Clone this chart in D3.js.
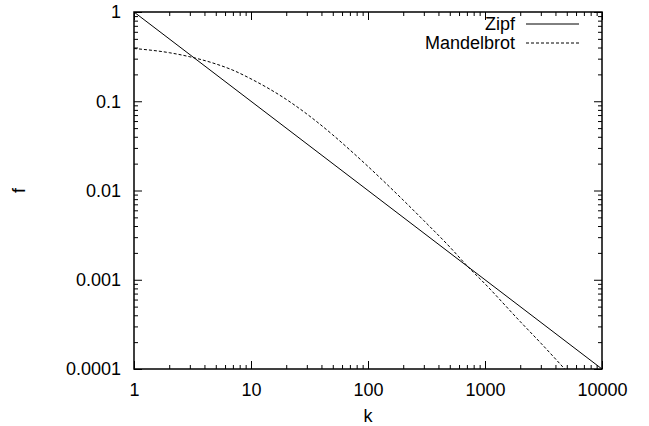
<!DOCTYPE html>
<html>
<head>
<meta charset="utf-8">
<script src="https://cdn.jsdelivr.net/npm/d3@7"></script>
<style>
  body { margin: 0; background: #fff; }
  svg { display: block; font-family: "Liberation Sans", Arial, sans-serif; }
</style>
</head>
<body>
<div id="chart"></div>
<script>
// data
const kTicks = [1, 10, 100, 1000, 10000];
const kLabels = ["1", "10", "100", "1000", "10000"];
const fTicks = [1, 0.1, 0.01, 0.001, 0.0001];
const fLabels = ["1", "0.1", "0.01", "0.001", "0.0001"];

const zipfK = [1, 10, 100, 1000, 10000];
const zipfF = [1, 0.1, 0.01, 0.001, 0.0001];

const mandK = [1, 2, 3, 5, 7, 10, 20, 30, 50, 70, 100, 200, 300, 500, 700, 1000, 2000, 3000, 4800];
const mandF = [0.39, 0.35, 0.315, 0.262, 0.223, 0.178, 0.105, 0.072, 0.042, 0.0285, 0.0186,
               0.0078, 0.0046, 0.00233, 0.00144, 0.0009, 0.00034, 0.000195, 0.0001];

const series = [
  { name: "Zipf", k: zipfK, f: zipfF, dash: null },
  { name: "Mandelbrot", k: mandK, f: mandF, dash: "3,2" }
];

const W = 649, H = 426;
const pl = 134, pr = 602, pt = 12, pb = 369;

const svg = d3.select("#chart").append("svg")
  .attr("width", W)
  .attr("height", H);

const x = d3.scaleLog().domain([1, 10000]).range([pl, pr]);
const y = d3.scaleLog().domain([0.0001, 1]).range([pb, pt]);

// minor ticks 2..9 in every decade
const minorK = [];
for (let d = 1; d < 10000; d *= 10) for (let m = 2; m <= 9; m++) minorK.push(d * m);
const minorF = [];
for (let d = 0.0001; d < 0.99; d *= 10) for (let m = 2; m <= 9; m++) minorF.push(d * m);

const major = 8, minor = 4, fs = 18;

function styleAxis(g) {
  g.select(".domain").remove();
  g.selectAll("line").attr("stroke", "#000");
  g.selectAll("text").attr("fill", "#000").style("font-size", fs + "px");
}

// bottom + top
svg.append("g").attr("transform", `translate(0,${pb})`)
  .call(d3.axisBottom(x).tickValues(kTicks).tickFormat((d, i) => kLabels[i]).tickSize(-major).tickPadding(14))
  .call(styleAxis);
svg.append("g").attr("transform", `translate(0,${pb})`)
  .call(d3.axisBottom(x).tickValues(minorK).tickFormat("").tickSize(-minor))
  .call(styleAxis);
svg.append("g").attr("transform", `translate(0,${pt})`)
  .call(d3.axisTop(x).tickValues(kTicks).tickFormat("").tickSize(-major))
  .call(styleAxis);
svg.append("g").attr("transform", `translate(0,${pt})`)
  .call(d3.axisTop(x).tickValues(minorK).tickFormat("").tickSize(-minor))
  .call(styleAxis);

// left + right
svg.append("g").attr("transform", `translate(${pl},0)`)
  .call(d3.axisLeft(y).tickValues(fTicks).tickFormat((d, i) => fLabels[i]).tickSize(-major).tickPadding(13))
  .call(styleAxis);
svg.append("g").attr("transform", `translate(${pl},0)`)
  .call(d3.axisLeft(y).tickValues(minorF).tickFormat("").tickSize(-minor))
  .call(styleAxis);
svg.append("g").attr("transform", `translate(${pr},0)`)
  .call(d3.axisRight(y).tickValues(fTicks).tickFormat("").tickSize(-major))
  .call(styleAxis);
svg.append("g").attr("transform", `translate(${pr},0)`)
  .call(d3.axisRight(y).tickValues(minorF).tickFormat("").tickSize(-minor))
  .call(styleAxis);

svg.append("clipPath").attr("id", "clip")
  .append("rect").attr("x", pl).attr("y", pt)
  .attr("width", pr - pl).attr("height", pb - pt);

const line = d3.line()
  .x(d => x(d[0]))
  .y(d => y(d[1]))
  .curve(d3.curveMonotoneX);

svg.append("g").attr("clip-path", "url(#clip)")
  .selectAll("path")
  .data(series)
  .join("path")
    .attr("d", s => line(s.k.map((k, i) => [k, s.f[i]])))
    .attr("fill", "none")
    .attr("stroke", "#000")
    .attr("stroke-width", 1)
    .attr("stroke-dasharray", s => s.dash);

// border
svg.append("rect")
  .attr("x", pl).attr("y", pt)
  .attr("width", pr - pl).attr("height", pb - pt)
  .attr("fill", "none").attr("stroke", "#000").attr("stroke-width", 1.5);

// legend
const key = svg.append("g")
  .selectAll("g")
  .data(series)
  .join("g")
    .attr("transform", (d, i) => `translate(0,${24 + i * 19})`);
key.append("text")
  .attr("x", 515).attr("dy", "0.35em")
  .attr("text-anchor", "end")
  .style("font-size", fs + "px")
  .text(d => d.name);
key.append("line")
  .attr("x1", 526).attr("x2", 579)
  .attr("stroke", "#000")
  .attr("stroke-dasharray", d => d.dash);

// axis titles
svg.append("text")
  .attr("x", (pl + pr) / 2).attr("y", 422)
  .attr("text-anchor", "middle")
  .style("font-size", fs + "px")
  .text("k");
svg.append("text")
  .attr("transform", `translate(25,${(pt + pb) / 2}) rotate(-90)`)
  .attr("text-anchor", "middle")
  .style("font-size", fs + "px")
  .text("f");
</script>
</body>
</html>
